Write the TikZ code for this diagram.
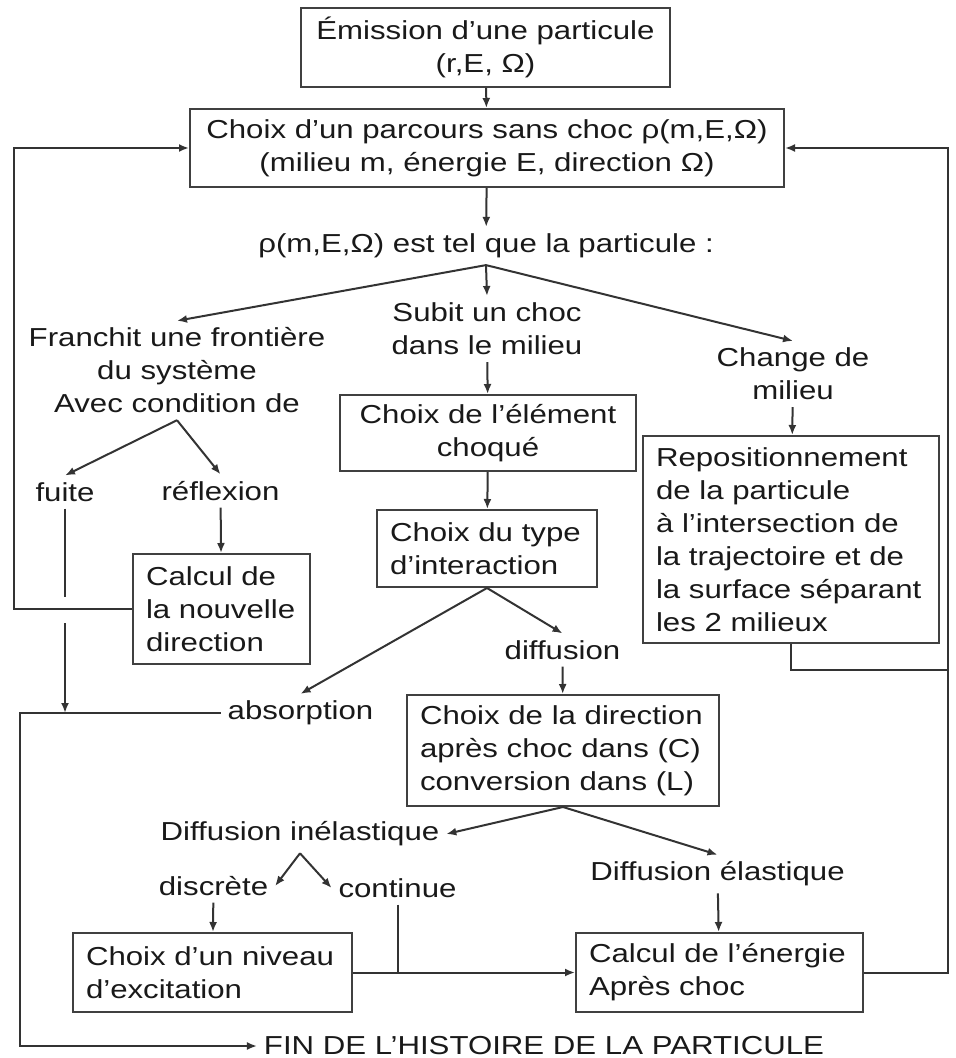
\documentclass[tikz,border=0pt]{standalone}
\usepackage{fontspec}
\setmainfont{Liberation Sans}[FakeStretch=1.2]
\usetikzlibrary{arrows.meta, positioning}

\begin{document}
\begin{tikzpicture}[x=0.5pt,y=-0.5pt,>={Latex[length=5pt,width=4pt]},
    line width=1pt,color=black!80]
  \tikzstyle{every node}=[font=\fontsize{13}{16.5}\selectfont,text=black!90]
  \tikzstyle{box}=[draw=black!75,inner xsep=6.5pt,inner ysep=2pt,align=center]
  \tikzstyle{lbox}=[box,align=left]
  \tikzstyle{txt}=[inner sep=3pt,align=center]

  \useasboundingbox (0,0) rectangle (955,1058);

  \node[box,minimum width=184.5pt,minimum height=39.5pt] (emis) at (485.5,47.5) {Émission d’une particule\\(r,E, Ω)};
  \node[box,minimum width=297pt,minimum height=39pt]     (parc) at (487,148)    {Choix d’un parcours sans choc ρ(m,E,Ω)\\(milieu m, énergie E, direction Ω)};
  \node[txt] (rho)  at (486,246)   {ρ(m,E,Ω) est tel que la particule :};
  \node[txt] (fran) at (177,370.5) {Franchit une frontière\\du système\\Avec condition de};
  \node[txt] (subi) at (487,329)   {Subit un choc\\dans le milieu};
  \node[txt] (chan) at (793,374)   {Change de\\milieu};

  \node[box,minimum width=148pt,minimum height=38pt] (elem) at (488,433)   {Choix de l’élément\\choqué};
  \node[lbox,text width=97pt,minimum height=38.5pt]  (type) at (487,548.5) {Choix du type\\d’interaction};
  \node[lbox,text width=135pt,minimum height=103.5pt] (repo) at (791,539.5) {Repositionnement\\de la particule\\à l’intersection de\\la trajectoire et de\\la surface séparant\\les 2 milieux};

  \node[txt] (fuit) at (65,492)    {fuite};
  \node[txt] (refl) at (220.5,491) {réflexion};
  \node[lbox,text width=75.5pt,minimum height=55pt] (calc) at (221.5,609) {Calcul de\\la nouvelle\\direction};

  \node[txt] (diff) at (562.5,650) {diffusion};
  \node[txt] (abso) at (300.5,713) {absorption};
  \node[lbox,text width=143pt,minimum height=55.5pt] (dirc) at (563,750.5) {Choix de la direction\\après choc dans (C)\\conversion dans (L)};

  \node[txt] (dine) at (300,834)   {Diffusion inélastique};
  \node[txt] (dela) at (717.5,874) {Diffusion élastique};
  \node[txt] (disc) at (213.5,886) {discrète};
  \node[txt] (cont) at (397.5,888) {continue};
  \node[lbox,text width=126.5pt,minimum height=39.5pt] (nivo) at (212.5,972.5) {Choix d’un niveau\\d’excitation};
  \node[lbox,text width=130.5pt,minimum height=39.5pt] (ener) at (719.5,972.5) {Calcul de l’énergie\\Après choc};
  \node[txt] (fin) at (544,1046) {FIN DE L’HISTOIRE DE LA PARTICULE};

  \coordinate (lb) at (14,148);
  \coordinate (rb) at (948,148);
  \coordinate (rj) at (948,670);
  \coordinate (lc) at (20,1046);
  \coordinate (f1) at (65,597);
  \coordinate (f2) at (65,623);

  \path[->]
  (emis)       edge (parc)
  (parc)       edge (rho)
  (rho.south)  edge (fran.north)
  (rho.south)  edge (subi.north)
  (rho.south)  edge (chan.north)
  (subi)       edge (elem)
  (elem)       edge (type)
  (chan)       edge (repo)
  (fran.south) edge (fuit.north)
  (fran.south) edge (refl.north)
  (refl)       edge (calc)
  (type.south) edge (abso.north)
  (type.south) edge (diff.north)
  (diff)       edge (dirc)
  (dirc.south) edge (dine.east)
  (dirc.south) edge (dela.north)
  (dine.south) edge (disc.east)
  (dine.south) edge (cont.west)
  (disc)       edge (nivo)
  (dela)       edge (ener)
  (nivo)       edge (ener)
  ;

  % retours
  \draw[->] (calc.west) -| (lb) -- (parc.west);
  \draw[->] (ener.east) -| (rb) -- (parc.east);
  \draw (repo.south) |- (rj);
  \draw (cont.south) -- (cont.south |- nivo.east);
  \draw (fuit.south) -- (f1);
  \draw[->] (f2) -- (f2 |- abso.west);
  \draw[->] (abso.west) -| (lc) -- (fin.west);
\end{tikzpicture}
\end{document}
